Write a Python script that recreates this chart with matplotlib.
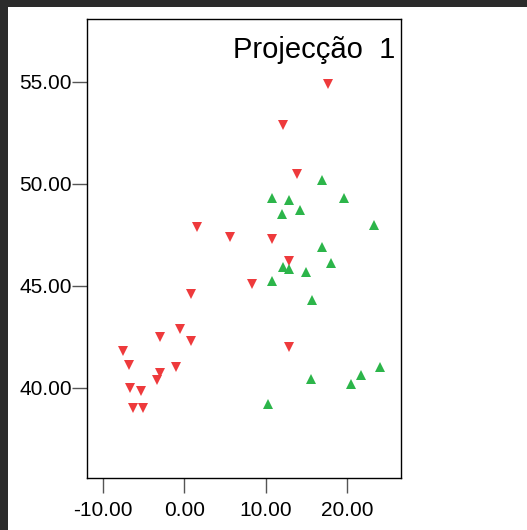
import matplotlib
matplotlib.use("Agg")
import matplotlib.pyplot as plt
from matplotlib.patches import Rectangle

# group 1 (red, down triangles)
red_x = [17.6, 12.1, 13.8, 1.6, 5.6, 10.8, 12.8, 8.3, 0.8, -0.5, -3.0, 0.8,
         -7.6, 12.9, -6.8, -1.0, -3.0, -3.4, -6.7, -5.3, -6.3, -5.1]
red_y = [54.9, 52.9, 50.5, 47.9, 47.4, 47.3, 46.2, 45.1, 44.6, 42.9, 42.5, 42.3,
         41.8, 42.0, 41.1, 41.0, 40.7, 40.4, 40.0, 39.85, 39.0, 39.0]

# group 2 (green, up triangles)
green_x = [16.9, 10.8, 12.9, 19.6, 12.0, 14.2, 23.3, 16.9, 12.1, 12.8, 14.9,
           18.0, 10.8, 15.7, 15.6, 21.7, 20.4, 24.0, 10.3]
green_y = [50.2, 49.3, 49.2, 49.3, 48.5, 48.7, 48.0, 46.9, 45.9, 45.8, 45.7,
           46.1, 45.25, 44.3, 40.45, 40.6, 40.2, 41.0, 39.2]

xticks = [-10, 0, 10, 20]
yticks = [40, 45, 50, 55]

fig = plt.figure(figsize=(5.27, 5.30), dpi=100, facecolor="#2b2b2b")
# white page inside the dark frame
fig.patches.append(Rectangle((8 / 527, 0), 1, 1 - 7 / 530, transform=fig.transFigure,
                             facecolor="white", edgecolor="none", zorder=-10))

ax = fig.add_axes([87 / 527, 1 - 478 / 530, 314 / 527, 459 / 530])
ax.plot(red_x, red_y, "v", color="#ee3a3c", markersize=7, markeredgewidth=0)
ax.plot(green_x, green_y, "^", color="#2cb54a", markersize=7, markeredgewidth=0)

ax.set_xlim(-11.97, 26.6)
ax.set_ylim(35.57, 58.09)
ax.set_xticks(xticks)
ax.set_yticks(yticks)
ax.set_xticklabels(["%.2f" % v for v in xticks])
ax.set_yticklabels(["%.2f" % v for v in yticks])

for s in ax.spines.values():
    s.set_linewidth(1.0)
    s.set_color("black")
ax.tick_params(direction="out", length=11, width=1, color="#555555",
               labelsize=15, pad=0)
ax.tick_params(axis="x", pad=5.5)
for lab in ax.get_xticklabels() + ax.get_yticklabels():
    lab.set_family("Liberation Sans")

ax.text(0.981, 0.915, "Projecção  1", transform=ax.transAxes, ha="right",
        va="baseline", fontsize=21, family=["Liberation Sans Narrow", "Liberation Sans"])

fig.savefig("out.png", dpi=100, facecolor=fig.get_facecolor())
